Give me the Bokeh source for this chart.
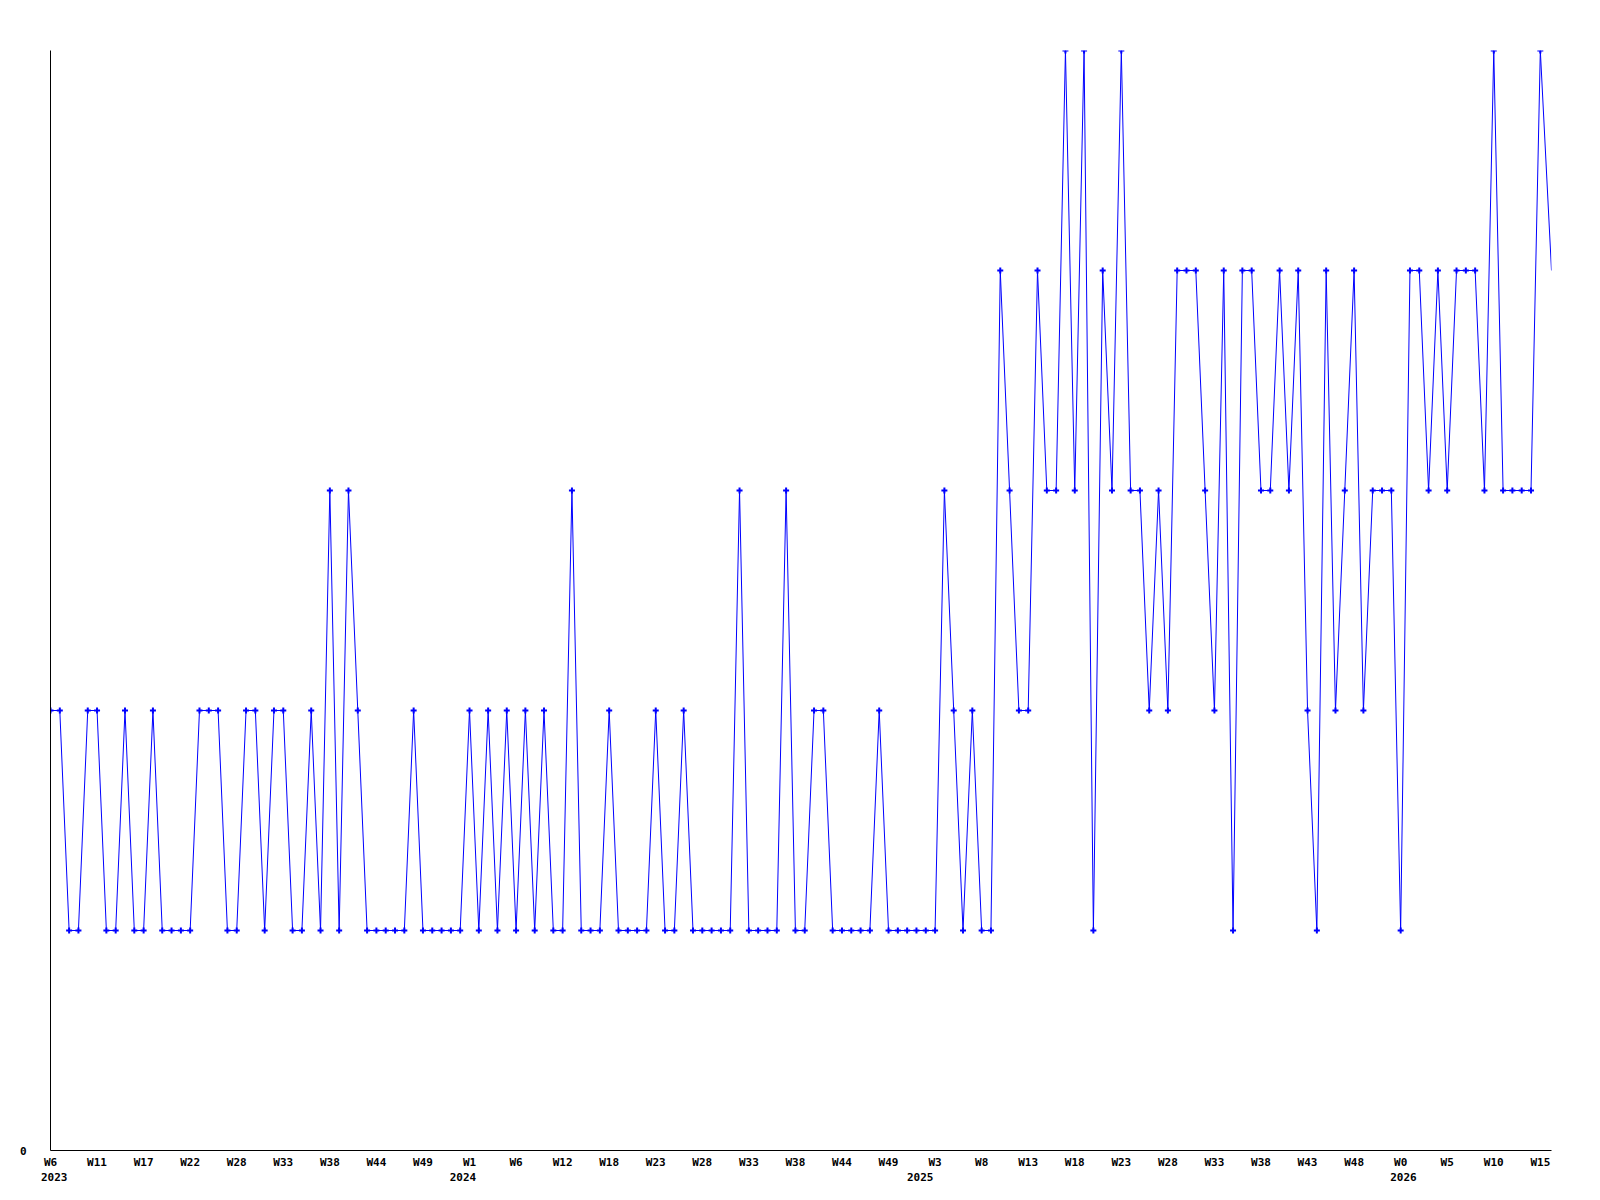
from bokeh.plotting import figure
from bokeh.models import Range1d, FixedTicker, LinearAxis
from bokeh.embed import file_html
from bokeh.resources import INLINE

# weekly values, 2023 W6 onwards (last point is the current, partial period)
values = [
    2, 2, 1, 1, 2, 2, 1, 1, 2, 1,
    1, 2, 1, 1, 1, 1, 2, 2, 2, 1,
    1, 2, 2, 1, 2, 2, 1, 1, 2, 1,
    3, 1, 3, 2, 1, 1, 1, 1, 1, 2,
    1, 1, 1, 1, 1, 2, 1, 2, 1, 2,
    1, 2, 1, 2, 1, 1, 3, 1, 1, 1,
    2, 1, 1, 1, 1, 2, 1, 1, 2, 1,
    1, 1, 1, 1, 3, 1, 1, 1, 1, 3,
    1, 1, 2, 2, 1, 1, 1, 1, 1, 2,
    1, 1, 1, 1, 1, 1, 3, 2, 1, 2,
    1, 1, 4, 3, 2, 2, 4, 3, 3, 5,
    3, 5, 1, 4, 3, 5, 3, 3, 2, 3,
    2, 4, 4, 4, 3, 2, 4, 1, 4, 4,
    3, 3, 4, 3, 4, 2, 1, 4, 2, 3,
    4, 2, 3, 3, 3, 1, 4, 4, 3, 4,
    3, 4, 4, 4, 3, 5, 3, 3, 3, 3,
    5, 4,
]
# period position of each value (last one is a partial period)
periods = list(range(161)) + [161.2]
n_complete = 161

# x tick labels (every 5 periods) and year labels
tick_periods = list(range(0, 161, 5))
week_labels = ["W6", "W11", "W17", "W22", "W28", "W33", "W38", "W44", "W49",
               "W1", "W6", "W12", "W18", "W23", "W28", "W33", "W38", "W44", "W49",
               "W3", "W8", "W13", "W18", "W23", "W28", "W33", "W38", "W43", "W48",
               "W0", "W5", "W10", "W15"]
year_labels = ["2023", "2024", "2025", "2026"]
year_periods = [0.4, 44.3, 93.4, 145.3]

FONT = "DejaVu Sans Mono"

p = figure(frame_width=1501, frame_height=1100,
           min_border_left=50, min_border_top=50,
           min_border_right=20, min_border_bottom=10,
           x_range=Range1d(0, periods[-1]), y_range=Range1d(0, 5),
           output_backend="svg", toolbar_location=None)
p.outline_line_color = None
p.xgrid.visible = False
p.ygrid.visible = False
p.background_fill_color = "white"
p.border_fill_color = "white"

p.line(periods, values, line_color="#0000ff", line_width=1)
p.scatter(periods[:n_complete], values[:n_complete], marker="cross",
          size=6, line_width=2, line_color="#0000ff")


def style_labels(ax):
    ax.major_tick_line_color = None
    ax.minor_tick_line_color = None
    ax.major_tick_in = 0
    ax.major_tick_out = 0
    ax.minor_tick_in = 0
    ax.minor_tick_out = 0
    ax.major_label_text_font = FONT
    ax.major_label_text_font_style = "bold"
    ax.major_label_text_font_size = "11px"
    ax.major_label_text_color = "black"


# week axis (bottom)
xa = p.xaxis[0]
xa.ticker = FixedTicker(ticks=tick_periods)
xa.major_label_overrides = {t: lab for t, lab in zip(tick_periods, week_labels)}
xa.axis_line_color = "black"
xa.axis_line_width = 1
style_labels(xa)
xa.major_label_standoff = 5

# year axis, stacked under the week axis
ya2 = LinearAxis(ticker=FixedTicker(ticks=year_periods),
                 major_label_overrides={t: lab for t, lab in zip(year_periods, year_labels)})
ya2.axis_line_color = None
style_labels(ya2)
ya2.major_label_standoff = 1
p.add_layout(ya2, "below")

# value axis (left)
ya = p.yaxis[0]
ya.ticker = FixedTicker(ticks=[0])
ya.axis_line_color = "black"
ya.axis_line_width = 1
style_labels(ya)
ya.major_label_standoff = 24

open("out.html", "w").write(file_html(p, INLINE))
